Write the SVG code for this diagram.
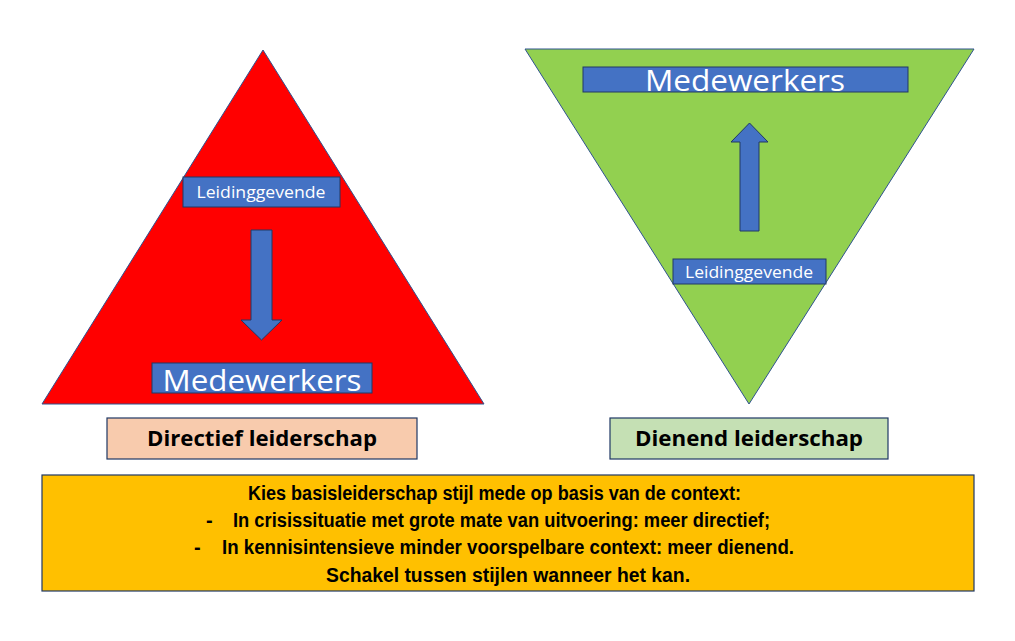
<svg xmlns="http://www.w3.org/2000/svg" width="1015" height="641" viewBox="0 0 1015 641">
<style>
.tri{stroke:#2F528F;stroke-width:1}
.blue{fill:#4472C4;stroke:#203864;stroke-width:1}
.wt{fill:#FFFFFF;font-family:"Open Sans","Noto Sans",sans-serif;text-anchor:middle}
.lbl{stroke:#1F3864;stroke-width:1.2}
.bt{fill:#000000;font-family:"Open Sans","Noto Sans",sans-serif;font-weight:bold;text-anchor:middle}
.yt{fill:#000000;font-family:"Liberation Sans",Arial,sans-serif;font-weight:bold}
</style>
<rect width="1015" height="641" fill="#FFFFFF"/>
<g id="red-triangle">
<polygon class="tri" points="263,50 484,404 42,404" fill="#FF0000"/>
</g>
<g id="green-triangle">
<polygon class="tri" points="525,49 974,49 749,404" fill="#92D050"/>
</g>
<g id="left-leidinggevende">
<rect class="blue" x="183" y="177" width="157" height="30"/>
<text class="wt" x="261" y="198" font-size="17" textLength="129" lengthAdjust="spacingAndGlyphs">Leidinggevende</text>
</g>
<g id="left-medewerkers">
<rect class="blue" x="152" y="363" width="220" height="30"/>
<text class="wt" x="262" y="391" font-size="30" textLength="199" lengthAdjust="spacingAndGlyphs">Medewerkers</text>
</g>
<g id="right-medewerkers">
<rect class="blue" x="583" y="67" width="325" height="25"/>
<text class="wt" x="745" y="91" font-size="30" textLength="200" lengthAdjust="spacingAndGlyphs">Medewerkers</text>
</g>
<g id="right-leidinggevende">
<rect class="blue" x="673" y="259" width="153" height="25"/>
<text class="wt" x="749" y="278" font-size="16" textLength="128" lengthAdjust="spacingAndGlyphs">Leidinggevende</text>
</g>
<g id="connectors">
<polygon class="blue" points="251,230 272,230 272,320 282,320 261.5,340 241,320 251,320"/>
<polygon class="blue" points="740,231 759,231 759,142 768,142 749.5,123 731,142 740,142"/>
</g>
<g id="directief">
<rect class="lbl" x="107" y="418" width="310" height="41" fill="#F8CBAD"/>
<text class="bt" x="262" y="446" font-size="21" textLength="230" lengthAdjust="spacingAndGlyphs">Directief leiderschap</text>
</g>
<g id="dienend">
<rect class="lbl" x="610" y="418" width="278" height="41" fill="#C5E0B4"/>
<text class="bt" x="749" y="446" font-size="21" textLength="228" lengthAdjust="spacingAndGlyphs">Dienend leiderschap</text>
</g>
<g id="context-box">
<rect class="lbl" x="42" y="475" width="932" height="116" fill="#FFC000"/>
<text class="yt" x="248" y="500" font-size="20" textLength="493" lengthAdjust="spacingAndGlyphs">Kies basisleiderschap stijl mede op basis van de context:</text>
<text class="yt" x="206" y="527" font-size="20">-</text>
<text class="yt" x="233" y="527" font-size="20" textLength="537" lengthAdjust="spacingAndGlyphs">In crisissituatie met grote mate van uitvoering: meer directief;</text>
<text class="yt" x="194" y="554" font-size="20">-</text>
<text class="yt" x="222" y="554" font-size="20" textLength="572" lengthAdjust="spacingAndGlyphs">In kennisintensieve minder voorspelbare context: meer dienend.</text>
<text class="yt" x="326" y="582" font-size="20" textLength="364" lengthAdjust="spacingAndGlyphs">Schakel tussen stijlen wanneer het kan.</text>
</g>
</svg>
